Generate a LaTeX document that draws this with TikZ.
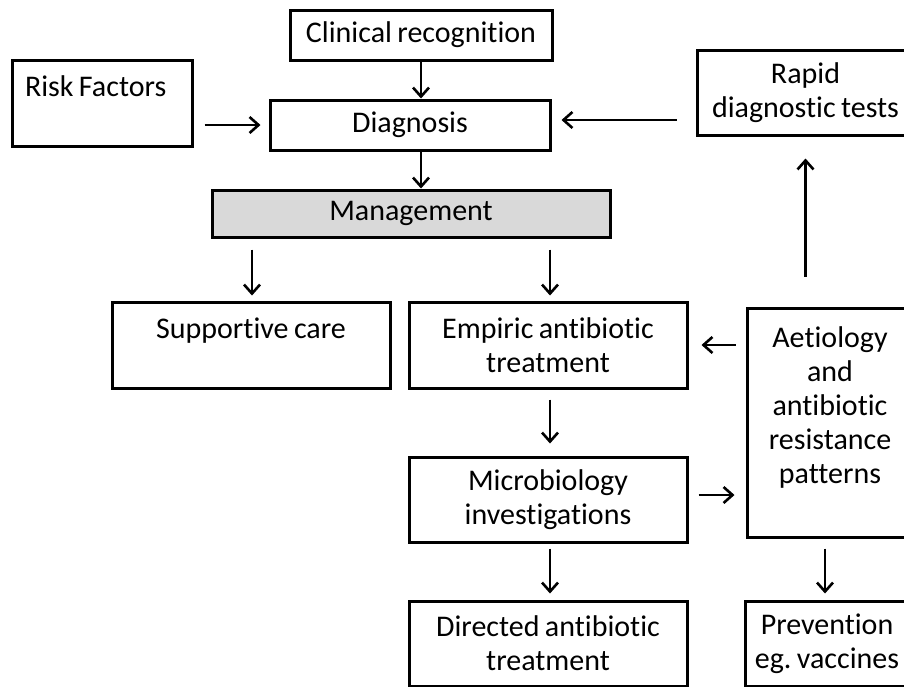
\documentclass[tikz,border=0pt]{standalone}
\usepackage{fontspec}
\setmainfont{Carlito}[Ligatures=NoCommon, WordSpace=0.8]
\frenchspacing
\usetikzlibrary{positioning,arrows.meta}
\definecolor{mgmtgray}{HTML}{D9D9D9}
\tikzstyle{box} = [draw, line width=3pt, rectangle, align=center, inner sep=0pt,
  font=\fontsize{30}{34}\selectfont]
\tikzstyle{arr} = [line width=2.6pt, -{Straight Barb[length=9pt,width=16pt]}]

\begin{document}
\begin{tikzpicture}[x=1pt,y=-1pt]
    \clip (0,0) rectangle (904,686);

    % Top row
    \node[box, minimum width=262pt, minimum height=50pt] (clin) at (421,35) {Clinical recognition};
    \node[box, align=left, minimum width=180pt, minimum height=86pt] (risk) at (102,103) {\makebox[154pt][l]{Risk Factors}\\~};
    \node[box, minimum width=280pt, minimum height=50pt] (diag) at (410,125) {Diagnosis};
    \node[box, minimum width=217pt, minimum height=85pt] (rapid) at (805.5,92.5) {Rapid\\diagnostic tests};
    \node[box, fill=mgmtgray, minimum width=398pt, minimum height=47pt] (mgmt) at (411,213.5) {Management};

    % Middle and bottom
    \node[box, minimum width=278pt, minimum height=86pt] (supp) at (251,345) {Supportive care\\~};
    \node[box, minimum width=278pt, minimum height=86pt] (emp) at (548,345) {Empiric antibiotic\\treatment};
    \node[box, minimum width=278pt, minimum height=85pt] (micro) at (548,499.5) {Microbiology\\investigations};
    \node[box, minimum width=278pt, minimum height=85pt] (dir) at (548,643.5) {Directed antibiotic\\treatment};
    \node[box, minimum width=166pt, minimum height=229pt] (aet) at (830,422.5) {Aetiology\\and\\antibiotic\\resistance\\patterns\\~};
    \node[box, minimum width=164pt, minimum height=85pt] (prev) at (827,643.5) {Prevention\\eg. vaccines};

    % Draw arrows
    \draw[arr] (clin.south) -- (clin.south |- diag.north);
    \draw[arr, shorten <=11pt, shorten >=8pt] (diag.west -| risk.east) -- (diag.west);
    \draw[arr, shorten <=19pt, shorten >=10pt] (rapid.west |- 0,120) -- (diag.east |- 0,120);
    \draw[arr] (diag.south -| clin.south) -- (mgmt.north -| clin.south);
    \draw[arr, shorten <=11pt, shorten >=5pt] (mgmt.south -| 252,0) -- (supp.north -| 252,0);
    \draw[arr, shorten <=11pt, shorten >=5pt] (mgmt.south -| 550,0) -- (emp.north -| 550,0);
    \draw[arr, shorten <=10pt, shorten >=13pt] (aet.west |- emp.east) -- (emp.east);
    \draw[arr, shorten <=30pt, shorten >=22pt] (aet.north -| rapid.south) -- (rapid.south);
    \draw[arr, shorten <=10pt, shorten >=12pt] (emp.south -| 550,0) -- (micro.north -| 550,0);
    \draw[arr, shorten <=10pt, shorten >=11pt] (micro.east |- 0,495) -- (aet.west |- 0,495);
    \draw[arr, shorten <=5pt, shorten >=6pt] (micro.south -| 550,0) -- (dir.north -| 550,0);
    \draw[arr, shorten <=10pt, shorten >=6pt] (aet.south -| 825,0) -- (prev.north -| 825,0);
\end{tikzpicture}
\end{document}
